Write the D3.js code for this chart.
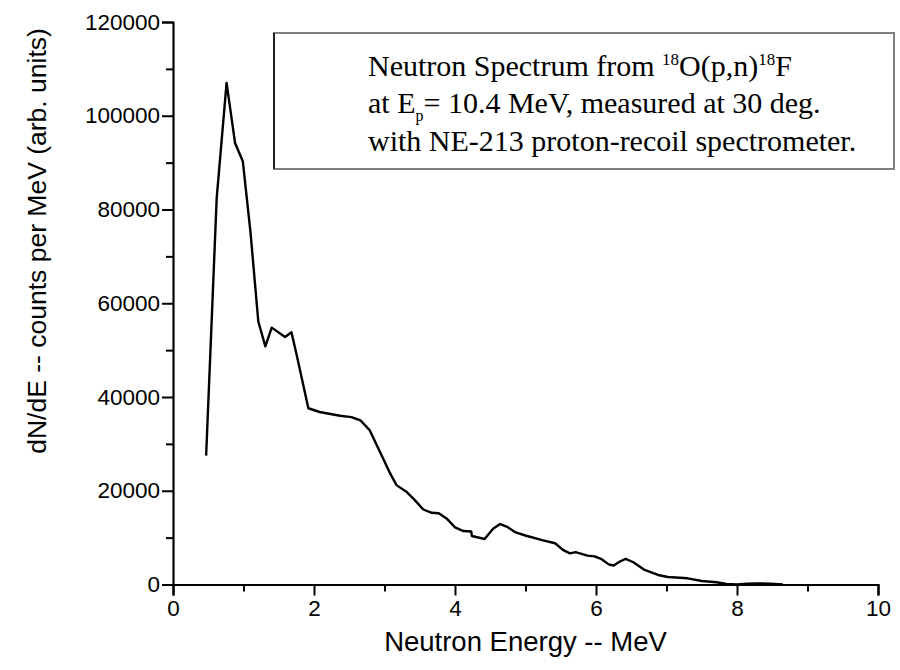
<!DOCTYPE html>
<html>
<head>
<meta charset="utf-8">
<script src="https://cdn.jsdelivr.net/npm/d3@7"></script>
<style>
  body { margin: 0; background: white; }
  .tick text { font-family: "Liberation Sans", Arial, sans-serif; }
</style>
</head>
<body>
<div id="my_dataviz"></div>
<script>
// neutron energy (MeV) and dN/dE
var energy = [0.47, 0.62, 0.76, 0.88, 0.99, 1.10, 1.21, 1.31, 1.40, 1.59, 1.68, 1.76, 1.92,
  2.08, 2.37, 2.53, 2.66, 2.79, 2.93, 3.08, 3.17, 3.31, 3.43, 3.55, 3.67, 3.77, 3.88,
  4.00, 4.12, 4.23, 4.24, 4.42, 4.54, 4.64, 4.74, 4.86, 5.01, 5.25, 5.42, 5.53, 5.63,
  5.71, 5.88, 5.98, 6.08, 6.18, 6.25, 6.34, 6.42, 6.53, 6.69, 6.88, 7.02, 7.30, 7.50,
  7.71, 7.85, 8.00, 8.14, 8.30, 8.47, 8.65];
var counts = [27500, 82500, 107000, 94200, 90300, 75000, 56100, 50800, 54800, 52800, 53800, 48600, 37600,
  36800, 36000, 35700, 35000, 32900, 28500, 23700, 21200, 19800, 18000, 16000, 15300, 15200, 14100,
  12200, 11400, 11300, 10350, 9700, 11900, 12900, 12300, 11100, 10400, 9400, 8800, 7400, 6650,
  6900, 6150, 6000, 5400, 4300, 4050, 4900, 5450, 4750, 3100, 2030, 1600, 1320, 750,
  470, 100, 0, 170, 250, 170, 0];

var xTicks = [0, 2, 4, 6, 8, 10];
var xMinor = [1, 3, 5, 7, 9];
var yTicks = [0, 20000, 40000, 60000, 80000, 100000, 120000];
var yMinor = [10000, 30000, 50000, 70000, 90000, 110000];

var xTitle = "Neutron Energy -- MeV";
var yTitle = "dN/dE -- counts per MeV (arb. units)";

// set the dimensions and margins of the graph
var margin = {top: 22, right: 22, bottom: 85, left: 173},
  width = 900 - margin.left - margin.right,
  height = 670 - margin.top - margin.bottom;

var svg = d3.select("#my_dataviz")
  .append("svg")
    .attr("width", 900)
    .attr("height", 670)
  .append("g")
    .attr("transform", "translate(" + margin.left + "," + margin.top + ")");

var x = d3.scaleLinear().domain([0, 10]).range([0, 705]);
var y = d3.scaleLinear().domain([0, 120000]).range([562.5, 0]);

// x axis, major + minor ticks
var xAxis = svg.append("g")
  .attr("transform", "translate(0," + y(0) + ")")
  .call(d3.axisBottom(x).tickValues(xTicks).tickSize(11).tickPadding(5).tickFormat(d3.format("d")));
xAxis.append("g")
  .call(d3.axisBottom(x).tickValues(xMinor).tickSize(7).tickFormat(""))
  .select(".domain").remove();

// y axis
var yAxis = svg.append("g")
  .call(d3.axisLeft(y).tickValues(yTicks).tickSize(11).tickPadding(2).tickFormat(d3.format("d")));
yAxis.append("g")
  .call(d3.axisLeft(y).tickValues(yMinor).tickSize(7).tickFormat(""))
  .select(".domain").remove();

svg.selectAll(".domain").attr("stroke", "black").attr("stroke-width", 2.2);
svg.selectAll(".tick line").attr("stroke", "black").attr("stroke-width", 2);
svg.selectAll(".tick text")
  .style("font-size", "22.5px")
  .attr("fill", "black");

// the spectrum
var line = d3.line()
  .x(function(d, i) { return x(energy[i]); })
  .y(function(d) { return y(d); });

svg.append("path")
  .datum(counts)
  .attr("fill", "none")
  .attr("stroke", "black")
  .attr("stroke-width", 2.4)
  .attr("stroke-linejoin", "round")
  .attr("d", line);

// axis titles
svg.append("text")
  .attr("x", x(5))
  .attr("y", 629)
  .attr("text-anchor", "middle")
  .style("font-family", "Liberation Sans, Arial, sans-serif")
  .style("font-size", "27.5px")
  .text(xTitle);

svg.append("text")
  .attr("transform", "translate(" + (46 - margin.left) + "," + (241 - margin.top) + ") rotate(-90)")
  .attr("text-anchor", "middle")
  .style("font-family", "Liberation Sans, Arial, sans-serif")
  .style("font-size", "26.5px")
  .text(yTitle);

// annotation box
var box = svg.append("g").attr("transform", "translate(" + (274 - margin.left) + "," + (33 - margin.top) + ")");
box.append("rect")
  .attr("width", 620)
  .attr("height", 136)
  .attr("fill", "white")
  .attr("stroke", "#808080")
  .attr("stroke-width", 2);
box.append("line")
  .attr("x1", 0).attr("x2", 0).attr("y1", 0).attr("y2", 136)
  .attr("stroke", "black").attr("stroke-width", 1.5);

var note = box.append("text")
  .style("font-family", "Liberation Serif, Times New Roman, serif")
  .style("font-size", "30px")
  .attr("fill", "black");

var l1 = note.append("tspan").attr("x", 94).attr("y", 43);
l1.append("tspan").text("Neutron Spectrum from ");
l1.append("tspan").attr("dy", -11).style("font-size", "17px").text("18");
l1.append("tspan").attr("dy", 11).text("O(p,n)");
l1.append("tspan").attr("dy", -11).style("font-size", "17px").text("18");
l1.append("tspan").attr("dy", 11).text("F");

var l2 = note.append("tspan").attr("x", 94).attr("y", 80);
l2.append("tspan").text("at E");
l2.append("tspan").attr("dy", 8).style("font-size", "16px").text("p");
l2.append("tspan").attr("dy", -8).text("= 10.4 MeV, measured at 30 deg.");

note.append("tspan").attr("x", 94).attr("y", 118).text("with NE-213 proton-recoil spectrometer.");
</script>
</body>
</html>
